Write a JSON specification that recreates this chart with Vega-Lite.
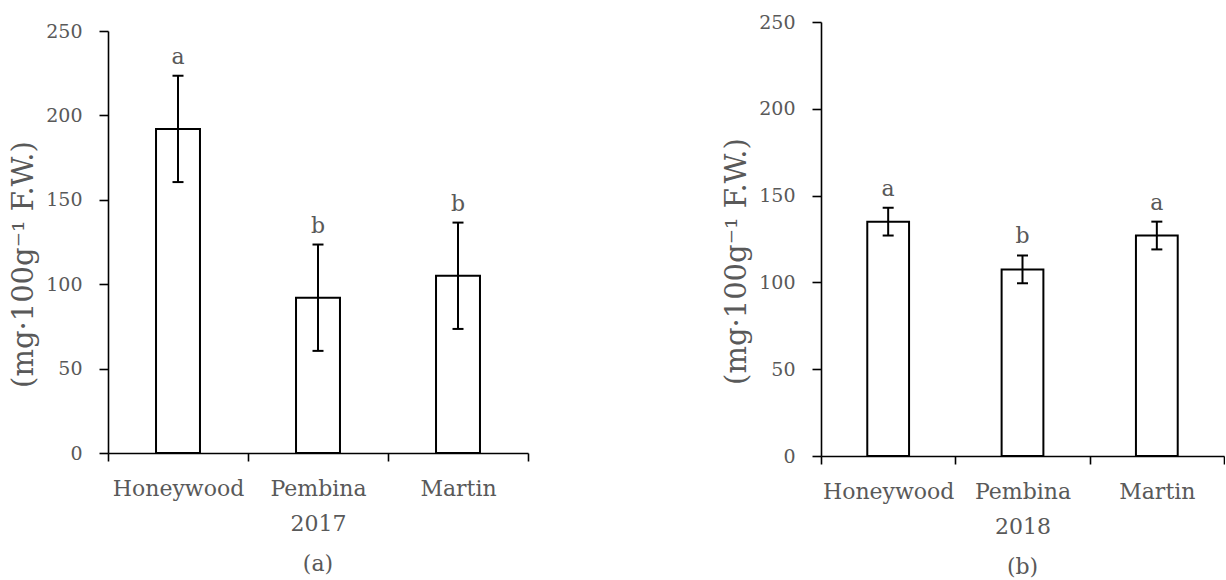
{
  "$schema": "https://vega.github.io/schema/vega-lite/v6.json",
  "background": "white",
  "padding": {"left": 9, "top": 13, "right": 0, "bottom": 0},
  "bounds": "flush",
  "spacing": 293,
  "config": {
    "font": "DejaVu Serif",
    "view": {"stroke": null},
    "axis": {
      "grid": false,
      "domainColor": "black",
      "domainWidth": 1.6,
      "tickColor": "black",
      "tickWidth": 1.6,
      "labelColor": "#595959",
      "titleColor": "#595959",
      "labelFont": "DejaVu Serif",
      "titleFont": "DejaVu Serif",
      "titleFontWeight": "normal"
    },
    "axisX": {"labelAngle": 0, "tickBand": "extent", "tickSize": 8, "labelPadding": 17, "labelFontSize": 22, "titleFontSize": 22, "titlePadding": 14},
    "axisY": {"tickSize": 9, "labelPadding": 17, "labelFontSize": 19, "titleFontSize": 29},
    "title": {"font": "DejaVu Serif", "fontSize": 22, "fontWeight": "normal", "color": "#595959", "orient": "bottom", "anchor": "middle"}
  },
  "datasets": {
    "y2017": [
      {"cultivar": "Honeywood", "mean": 192, "lo": 160.5, "hi": 223.5, "letter": "a"},
      {"cultivar": "Pembina", "mean": 92, "lo": 60.5, "hi": 123.5, "letter": "b"},
      {"cultivar": "Martin", "mean": 105, "lo": 73.5, "hi": 136.5, "letter": "b"}
    ],
    "y2018": [
      {"cultivar": "Honeywood", "mean": 135, "lo": 127, "hi": 143, "letter": "a"},
      {"cultivar": "Pembina", "mean": 107.5, "lo": 99.5, "hi": 115.5, "letter": "b"},
      {"cultivar": "Martin", "mean": 127, "lo": 119, "hi": 135, "letter": "a"}
    ]
  },
  "hconcat": [
    {
      "width": 420,
      "height": 434,
      "data": {"name": "y2017"},
      "title": {"text": "(a)", "offset": 20},
      "encoding": {
        "x": {
          "field": "cultivar",
          "type": "nominal",
          "sort": null,
          "scale": {"paddingInner": 0, "paddingOuter": 0},
          "axis": {"title": "2017", "offset": -3}
        }
      },
      "layer": [
        {
          "mark": {"type": "bar", "width": {"band": 0.314}, "fill": "white", "stroke": "black", "strokeWidth": 2},
          "encoding": {
            "y": {
              "field": "mean",
              "type": "quantitative",
              "title": "(mg·100g⁻¹ F.W.)",
              "scale": {"domain": [0, 250], "nice": false, "range": [431, 9]},
              "axis": {"values": [0, 50, 100, 150, 200, 250], "titleX": -70, "titleY": 242}
            }
          }
        },
        {
          "mark": {"type": "rule", "color": "black", "strokeWidth": 2},
          "encoding": {
            "y": {"field": "lo", "type": "quantitative", "title": "(mg·100g⁻¹ F.W.)", "scale": {"domain": [0, 250], "nice": false, "range": [431, 9]}},
            "y2": {"field": "hi"}
          }
        },
        {
          "mark": {"type": "tick", "color": "black", "size": 11, "thickness": 2, "opacity": 1},
          "encoding": {"y": {"field": "lo", "type": "quantitative", "title": "(mg·100g⁻¹ F.W.)", "scale": {"domain": [0, 250], "nice": false, "range": [431, 9]}}}
        },
        {
          "mark": {"type": "tick", "color": "black", "size": 11, "thickness": 2, "opacity": 1},
          "encoding": {"y": {"field": "hi", "type": "quantitative", "title": "(mg·100g⁻¹ F.W.)", "scale": {"domain": [0, 250], "nice": false, "range": [431, 9]}}}
        },
        {
          "mark": {"type": "text", "baseline": "bottom", "dy": -7, "fontSize": 22, "color": "#595959", "font": "DejaVu Serif"},
          "encoding": {
            "y": {"field": "hi", "type": "quantitative", "title": "(mg·100g⁻¹ F.W.)", "scale": {"domain": [0, 250], "nice": false, "range": [431, 9]}},
            "text": {"field": "letter"}
          }
        }
      ]
    },
    {
      "width": 403,
      "height": 434,
      "data": {"name": "y2018"},
      "title": {"text": "(b)", "offset": 20},
      "encoding": {
        "x": {
          "field": "cultivar",
          "type": "nominal",
          "sort": null,
          "scale": {"paddingInner": 0, "paddingOuter": 0},
          "axis": {"title": "2018"}
        }
      },
      "layer": [
        {
          "mark": {"type": "bar", "width": {"band": 0.311}, "fill": "white", "stroke": "black", "strokeWidth": 2},
          "encoding": {
            "y": {
              "field": "mean",
              "type": "quantitative",
              "title": "(mg·100g⁻¹ F.W.)",
              "scale": {"domain": [0, 250], "nice": false},
              "axis": {"values": [0, 50, 100, 150, 200, 250], "titleX": -70, "titleY": 239}
            }
          }
        },
        {
          "mark": {"type": "rule", "color": "black", "strokeWidth": 2},
          "encoding": {
            "y": {"field": "lo", "type": "quantitative", "title": "(mg·100g⁻¹ F.W.)", "scale": {"domain": [0, 250], "nice": false}},
            "y2": {"field": "hi"}
          }
        },
        {
          "mark": {"type": "tick", "color": "black", "size": 11, "thickness": 2, "opacity": 1},
          "encoding": {"y": {"field": "lo", "type": "quantitative", "title": "(mg·100g⁻¹ F.W.)", "scale": {"domain": [0, 250], "nice": false}}}
        },
        {
          "mark": {"type": "tick", "color": "black", "size": 11, "thickness": 2, "opacity": 1},
          "encoding": {"y": {"field": "hi", "type": "quantitative", "title": "(mg·100g⁻¹ F.W.)", "scale": {"domain": [0, 250], "nice": false}}}
        },
        {
          "mark": {"type": "text", "baseline": "bottom", "dy": -7, "fontSize": 22, "color": "#595959", "font": "DejaVu Serif"},
          "encoding": {
            "y": {"field": "hi", "type": "quantitative", "title": "(mg·100g⁻¹ F.W.)", "scale": {"domain": [0, 250], "nice": false}},
            "text": {"field": "letter"}
          }
        }
      ]
    }
  ]
}
